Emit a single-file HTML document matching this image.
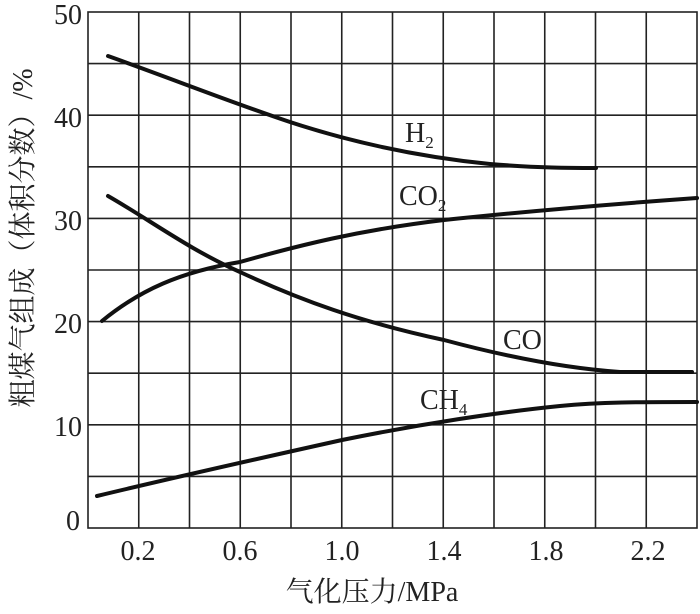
<!DOCTYPE html>
<html><head><meta charset="utf-8"><style>body{margin:0;background:#fff}</style></head><body>
<svg width="700" height="609" xmlns="http://www.w3.org/2000/svg" font-family="Liberation Serif, Noto Serif CJK SC, serif" fill="#222">
<g stroke="#222" stroke-width="1.6" fill="none">
<rect x="88" y="12" width="609" height="516"/>
<path d="M138.75 12V528M189.5 12V528M240.25 12V528M291 12V528M341.75 12V528M392.5 12V528M443.25 12V528M494 12V528M544.75 12V528M595.5 12V528M646.25 12V528"/>
<path d="M88 63.6H697M88 115.2H697M88 166.8H697M88 218.4H697M88 270H697M88 321.6H697M88 373.2H697M88 424.8H697M88 476.4H697"/>
</g>
<g stroke="#111" stroke-width="4" fill="none" stroke-linecap="round" stroke-linejoin="round">
<path d="M108 56 C170 78 230 102 290 122 C360 145 430 158 490 164 C540 168 570 168 596 168"/>
<path d="M102 321 C140 290 180 272 240 262 C300 245 360 230 444 220 C520 212 600 205 697 198"/>
<path d="M108 196 C150 220 190 250 240 272 C300 300 360 322 444 340 C500 355 560 368 620 372 L692 372"/>
<path d="M97 496 C180 476 270 456 342 440 C420 424 500 412 560 406 C600 402 640 402 697 402"/>
</g>
<g font-size="28" text-anchor="end">
<text x="82" y="24">50</text><text x="82" y="127">40</text><text x="82" y="230">30</text><text x="82" y="333">20</text><text x="82" y="436">10</text><text x="80" y="530">0</text>
</g>
<g font-size="28" text-anchor="middle">
<text x="138" y="560">0.2</text><text x="240" y="560">0.6</text><text x="342" y="560">1.0</text><text x="444" y="560">1.4</text><text x="546" y="560">1.8</text><text x="648" y="560">2.2</text>
<text x="372" y="601">气化压力/MPa</text>
<text transform="translate(32,238) rotate(-90)">粗煤气组成（体积分数）/%</text>
</g>
<g font-size="28">
<text x="405" y="142">H<tspan font-size="17" dy="6">2</tspan></text>
<text x="399" y="205">CO<tspan font-size="17" dy="6">2</tspan></text>
<text x="503" y="349">CO</text>
<text x="420" y="409">CH<tspan font-size="17" dy="6">4</tspan></text>
</g>
</svg>
</body></html>
